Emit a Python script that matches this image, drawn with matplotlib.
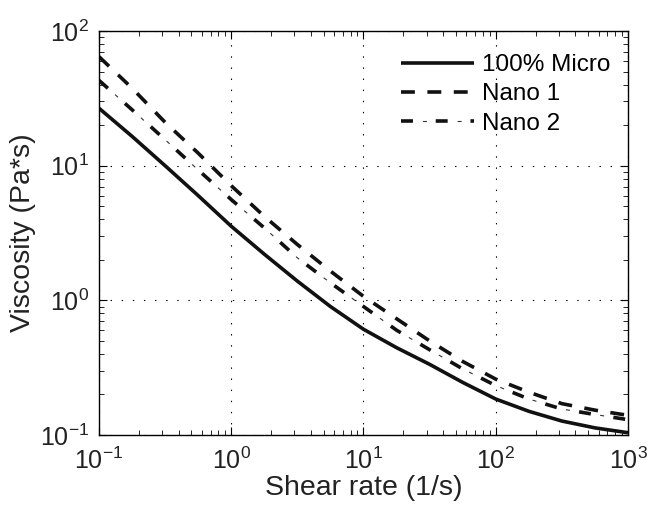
import matplotlib
matplotlib.use("Agg")
import matplotlib.pyplot as plt
from matplotlib.legend_handler import HandlerTuple

plt.rcParams['font.family'] = ['Liberation Sans', 'DejaVu Sans']
plt.rcParams['mathtext.fontset'] = 'custom'
plt.rcParams['mathtext.rm'] = 'Liberation Sans'
plt.rcParams['mathtext.it'] = 'Liberation Sans:italic'
plt.rcParams['lines.scale_dashes'] = False

# data (log-log), quarter-decade steps
shear_rate = [0.1, 0.178, 0.316, 0.562, 1, 1.78, 3.16, 5.62, 10,
              17.8, 31.6, 56.2, 100, 178, 316, 562, 1000]
micro = [26.7, 16.5, 10.0, 6.0, 3.55, 2.2, 1.39, 0.90, 0.61,
         0.445, 0.335, 0.246, 0.185, 0.150, 0.127, 0.113, 0.104]
nano1 = [64.5, 37.6, 21.0, 12.4, 7.1, 4.2, 2.6, 1.65, 1.07,
         0.73, 0.50, 0.352, 0.26, 0.208, 0.171, 0.153, 0.14]
nano2 = [43.0, 26.0, 15.6, 9.3, 5.6, 3.45, 2.07, 1.35, 0.90,
         0.60, 0.43, 0.31, 0.233, 0.185, 0.156, 0.142, 0.13]
labels = ['100% Micro', 'Nano 1', 'Nano 2']

fig = plt.figure(figsize=(6.47, 5.05), dpi=100)
ax = fig.add_axes([0.153, 0.1386, 0.8176, 0.80])

l1, = ax.plot(shear_rate, micro, color='#111111', lw=2.6, solid_capstyle='butt')
l2, = ax.plot(shear_rate, nano1, color='#111111', lw=2.6,
              linestyle=(0, (10, 9)), dash_capstyle='butt')
# dash-dot drawn as a thick dash plus a thin dot between dashes
l3a, = ax.plot(shear_rate, nano2, color='#111111', lw=2.6,
               linestyle=(0, (8.6, 16.4)), dash_capstyle='butt')
l3b, = ax.plot(shear_rate, nano2, color='#333333', lw=0.8,
               linestyle=(9.6, (2.9, 22.1)), dash_capstyle='butt')

ax.set_xscale('log')
ax.set_yscale('log')
ax.set_xlim(0.1, 1000)
ax.set_ylim(0.1, 100)

ax.grid(True, which='major', color='black', lw=0.8, linestyle=(0, (1, 7)))
ax.tick_params(which='both', direction='in', top=True, right=True,
               labelsize=18, labelcolor='#222222')
ax.tick_params(axis='x', which='major', pad=9)
ax.tick_params(axis='y', which='major', pad=7)
ax.tick_params(which='major', length=6, width=0.8)
ax.tick_params(which='minor', length=3.5, width=0.6)
for s in ax.spines.values():
    s.set_linewidth(1.0)

ax.set_xlabel('Shear rate (1/s)', fontsize=20.5, color='#222222', labelpad=1)
ax.set_ylabel('Viscosity (Pa*s)', fontsize=20.5, color='#222222', labelpad=3)

ax.legend([l1, l2, (l3a, l3b)], labels, loc='upper right', frameon=False,
          fontsize=17.5, handlelength=3.0, handletextpad=0.3, labelspacing=0.3,
          borderaxespad=0.3, bbox_to_anchor=(0.998, 0.985),
          handler_map={tuple: HandlerTuple(ndivide=1)})

fig.savefig('out.png', dpi=100)
